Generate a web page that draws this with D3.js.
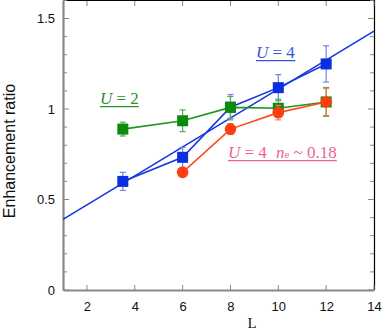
<!DOCTYPE html>
<html><head><meta charset="utf-8">
<script src="https://cdn.jsdelivr.net/npm/d3@7"></script>
<style>body{margin:0;background:#fff}svg{display:block}</style>
</head><body>
<script>
// Data
const blueL = [3.5, 6, 8, 10, 12];
const blueV = [0.60, 0.733, 1.01, 1.118, 1.249];
const blueE = [0.05, 0.055, 0.07, 0.072, 0.10];
const greenL = [3.5, 6, 8, 10, 12];
const greenV = [0.889, 0.935, 1.009, 1.004, 1.039];
const greenE = [0.038, 0.06, 0.06, 0.05, 0.08];
const redL = [6, 8, 10, 12];
const redV = [0.650, 0.889, 0.980, 1.039];
const redE = [0.015, 0.03, 0.04, 0.075];
const fitL = [1, 14];
const fitV = [0.39, 1.43];
const xTicks = [2, 4, 6, 8, 10, 12, 14];
const yTicks = [0, 0.5, 1, 1.5];
const yMinor = d3.range(0, 1.61, 0.1);

const W = 382, H = 331;
const svg = d3.select("body").append("svg").attr("width", W).attr("height", H);
const x = d3.scaleLinear().domain([1, 14]).range([63, 374]);
const y = d3.scaleLinear().domain([0, 1.6]).range([290, 0.4]);

// frame: top/right black
svg.append("line").attr("x1", 63).attr("x2", 374.5).attr("y1", 0.5).attr("y2", 0.5).attr("stroke", "#000").attr("stroke-width", 1.2);
svg.append("line").attr("x1", 374.5).attr("x2", 374.5).attr("y1", 0).attr("y2", 290).attr("stroke", "#000").attr("stroke-width", 1.2);

// minor/major y ticks left & right
yMinor.forEach(v => {
  const major = Math.abs(v * 2 - Math.round(v * 2)) < 1e-6;
  const len = major ? 6 : 4;
  svg.append("line").attr("x1", 63).attr("x2", 63 + len).attr("y1", y(v)).attr("y2", y(v)).attr("stroke", "#888").attr("stroke-width", 1);
  svg.append("line").attr("x1", 374).attr("x2", 374 - len).attr("y1", y(v)).attr("y2", y(v)).attr("stroke", "#888").attr("stroke-width", 1);
});
xTicks.forEach(v => {
  svg.append("line").attr("x1", x(v)).attr("x2", x(v)).attr("y1", 290).attr("y2", 285).attr("stroke", "#888");
  svg.append("line").attr("x1", x(v)).attr("x2", x(v)).attr("y1", 1).attr("y2", 6).attr("stroke", "#888");
});

// left & bottom axes (gray, thick)
const yAxis = d3.axisLeft(y).tickValues(yTicks).tickSize(0).tickPadding(8).tickFormat(d => d === 0 ? "0" : d3.format("")(d));
const gy = svg.append("g").attr("transform", "translate(63,0)").call(yAxis);
gy.select(".domain").attr("stroke", "#888").attr("stroke-width", 2.2);
gy.selectAll("text").attr("font-family", "Liberation Sans, Arial, sans-serif").attr("font-size", 13).attr("fill", "#111");
const xAxis = d3.axisBottom(x).tickValues(xTicks).tickSize(0).tickPadding(12);
const gx = svg.append("g").attr("transform", "translate(0,290)").call(xAxis);
gx.select(".domain").attr("stroke", "#888").attr("stroke-width", 2.2);
gx.selectAll("text").attr("font-family", "Liberation Sans, Arial, sans-serif").attr("font-size", 13).attr("fill", "#111");

// axis titles
svg.append("text").attr("transform", "translate(15,151) rotate(-90)").attr("text-anchor", "middle")
  .attr("font-family", "Liberation Sans, Arial, sans-serif").attr("font-size", 16).attr("fill", "#111").text("Enhancement ratio");
svg.append("text").attr("x", 252).attr("y", 328).attr("text-anchor", "middle")
  .attr("font-family", "Liberation Serif, Times New Roman, serif").attr("font-size", 15).attr("fill", "#111").text("L");

const clip = svg.append("clipPath").attr("id", "c").append("rect").attr("x", 63).attr("y", 0).attr("width", 311).attr("height", 290);
const plot = svg.append("g").attr("clip-path", "url(#c)");
const line = d3.line().x(d => x(d[0])).y(d => y(d[1]));

// fit line
plot.append("path").attr("d", line(fitL.map((l, i) => [l, fitV[i]]))).attr("stroke", "#1438e0").attr("stroke-width", 1.6).attr("fill", "none");

function series(L, V, E, lineC, errC, markC, shape) {
  const pts = L.map((l, i) => [l, V[i], E[i]]);
  plot.append("path").attr("d", line(pts)).attr("stroke", lineC).attr("stroke-width", 1.6).attr("fill", "none");
  pts.forEach(p => {
    const cx = x(p[0]), y1 = y(p[1] + p[2]), y2 = y(p[1] - p[2]);
    plot.append("line").attr("x1", cx).attr("x2", cx).attr("y1", y1).attr("y2", y2).attr("stroke", errC).attr("stroke-width", 1.2);
    [y1, y2].forEach(yy => plot.append("line").attr("x1", cx - 3).attr("x2", cx + 3).attr("y1", yy).attr("y2", yy).attr("stroke", errC).attr("stroke-width", 1.2));
  });
  pts.forEach(p => {
    if (shape === "sq") {
      plot.append("rect").attr("x", x(p[0]) - 5.5).attr("y", y(p[1]) - 5.5).attr("width", 11).attr("height", 11).attr("fill", markC);
    } else {
      plot.append("circle").attr("cx", x(p[0])).attr("cy", y(p[1])).attr("r", 5.8).attr("fill", markC);
    }
  });
}
series(blueL, blueV, blueE, "#1438e0", "#6a84f0", "#0a2ee0", "sq");
series(greenL, greenV, greenE, "#1e961e", "#50b050", "#0c8a0c", "sq");
series(redL, redV, redE, "#ff4a1e", "#f07a40", "#ff3c12", "circ");

// labels
function label(xp, yp, color, parts) {
  const t = svg.append("text").attr("x", xp).attr("y", yp).attr("fill", color)
    .attr("font-family", "Liberation Serif, Times New Roman, serif").attr("font-size", 17);
  parts.forEach(p => {
    const ts = t.append("tspan").text(p.t);
    if (p.i) ts.attr("font-style", "italic");
    if (p.s) ts.attr("font-size", p.s);
    if (p.dx) ts.attr("dx", p.dx);
  });
  const bb = t.node().getBBox();
  svg.append("line").attr("x1", xp).attr("x2", bb.x + bb.width).attr("y1", yp + 2.7).attr("y2", yp + 2.7).attr("stroke", color).attr("stroke-width", 1.3);
}
label(100, 104, "#2e8f2e", [{t: "U", i: true}, {t: " = 2"}]);
label(256, 58, "#3654e4", [{t: "U", i: true}, {t: " = 4"}]);
label(228, 158, "#f0609a", [{t: "U", i: true}, {t: " = 4"}, {t: "n", i: true, dx: 9}, {t: "e", s: 11}, {t: " ~ 0.18"}]);
</script>
</body></html>
